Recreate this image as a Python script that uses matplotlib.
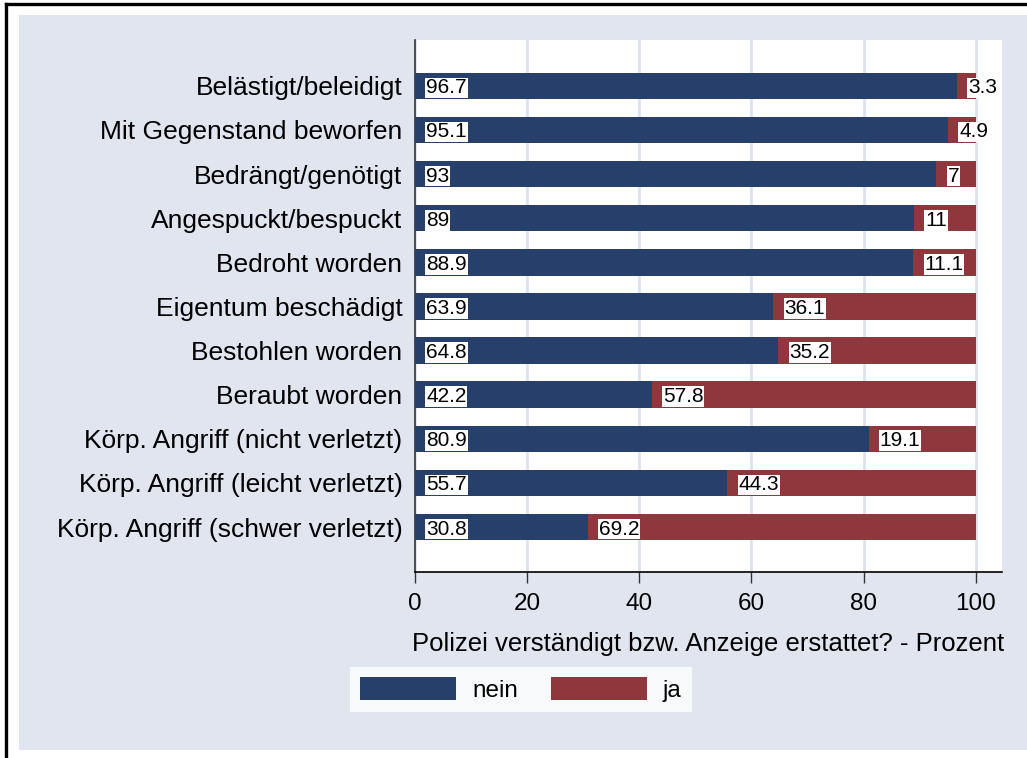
import matplotlib
matplotlib.use("Agg")
import matplotlib.pyplot as plt
from matplotlib.patches import Rectangle
from matplotlib.lines import Line2D

categories = [
    "Belästigt/beleidigt",
    "Mit Gegenstand beworfen",
    "Bedrängt/genötigt",
    "Angespuckt/bespuckt",
    "Bedroht worden",
    "Eigentum beschädigt",
    "Bestohlen worden",
    "Beraubt worden",
    "Körp. Angriff (nicht verletzt)",
    "Körp. Angriff (leicht verletzt)",
    "Körp. Angriff (schwer verletzt)",
]
nein = [96.7, 95.1, 93, 89, 88.9, 63.9, 64.8, 42.2, 80.9, 55.7, 30.8]
ja = [3.3, 4.9, 7, 11, 11.1, 36.1, 35.2, 57.8, 19.1, 44.3, 69.2]
xticks = [0, 20, 40, 60, 80, 100]
xlabel = "Polizei verständigt bzw. Anzeige erstattet? - Prozent"
legend_labels = ["nein", "ja"]

NAVY = "#263f6b"
MAROON = "#90363d"
PANEL = "#e1e5f0"
GRID = "#dde2ee"

plt.rcParams["font.family"] = ["Liberation Sans", "DejaVu Sans"]

W, H = 1027, 758
fig = plt.figure(figsize=(W / 100, H / 100), dpi=100)
fig.patch.set_facecolor("white")

# outer panel and frame
fig.add_artist(Rectangle((19 / W, 1 - 750 / H), 1.0, (750 - 15) / H,
                         transform=fig.transFigure, facecolor=PANEL,
                         edgecolor="none", zorder=0))
fig.add_artist(Line2D([6 / W, 6 / W], [0, 1 - 3.5 / H], transform=fig.transFigure,
                      color="black", lw=2.4, zorder=1))
fig.add_artist(Line2D([6 / W, 1.0], [1 - 3.5 / H, 1 - 3.5 / H], transform=fig.transFigure,
                      color="black", lw=2.4, zorder=1))

left, right, top, bottom = 415, 1002, 40, 572
ax = fig.add_axes([left / W, 1 - bottom / H, (right - left) / W, (bottom - top) / H])
ax.set_facecolor("white")

y = list(range(len(categories)))
bh = 0.6
b1 = ax.barh(y, nein, height=bh, color=NAVY, label=legend_labels[0], zorder=3)
b2 = ax.barh(y, ja, left=nein, height=bh, color=MAROON, label=legend_labels[1], zorder=3)

lab_fs = 15
for i in range(len(categories)):
    for start, val in ((0, nein[i]), (nein[i], ja[i])):
        ax.annotate(f"{val:g}", xy=(start, i), xytext=(8, 0), textcoords="offset points",
                    ha="left", va="center_baseline", fontsize=lab_fs, color="black", zorder=5,
                    bbox=dict(boxstyle="square,pad=0.04", facecolor="white",
                              edgecolor="none"))

ax.set_xlim(0, 104.7)
ax.set_ylim(10 + 1.02, -1.04)
ax.set_yticks(y)
ax.set_yticklabels(categories, fontsize=19)
ax.set_xticks(xticks)
ax.set_xticklabels([str(t) for t in xticks], fontsize=17.5)
ax.tick_params(axis="y", length=0, pad=9)
ax.tick_params(axis="x", length=8, width=1, color="#333333", pad=7)
ax.set_xlabel(xlabel, fontsize=18.5, labelpad=12)
ax.xaxis.grid(True, color=GRID, lw=2, zorder=0)
ax.set_axisbelow(True)
for s in ("top", "right"):
    ax.spines[s].set_visible(False)
ax.spines["left"].set_color("#333333")
ax.spines["left"].set_linewidth(1.2)
ax.spines["bottom"].set_color("black")
ax.spines["bottom"].set_linewidth(1.2)

fs_leg = 17.5
px = fs_leg * 100 / 72
leg = fig.legend(handles=[b1, b2], labels=legend_labels, loc="upper left",
                 bbox_to_anchor=(350 / W, 1 - 667 / H), ncol=2, frameon=True,
                 fancybox=False, fontsize=fs_leg, borderaxespad=0,
                 handlelength=96 / px, handleheight=26 / px,
                 handletextpad=16 / px, columnspacing=33 / px,
                 borderpad=10 / px)
leg.get_frame().set_facecolor("white")
leg.get_frame().set_edgecolor("white")
leg.get_frame().set_linewidth(0)

fig.savefig("out.png", dpi=100)
